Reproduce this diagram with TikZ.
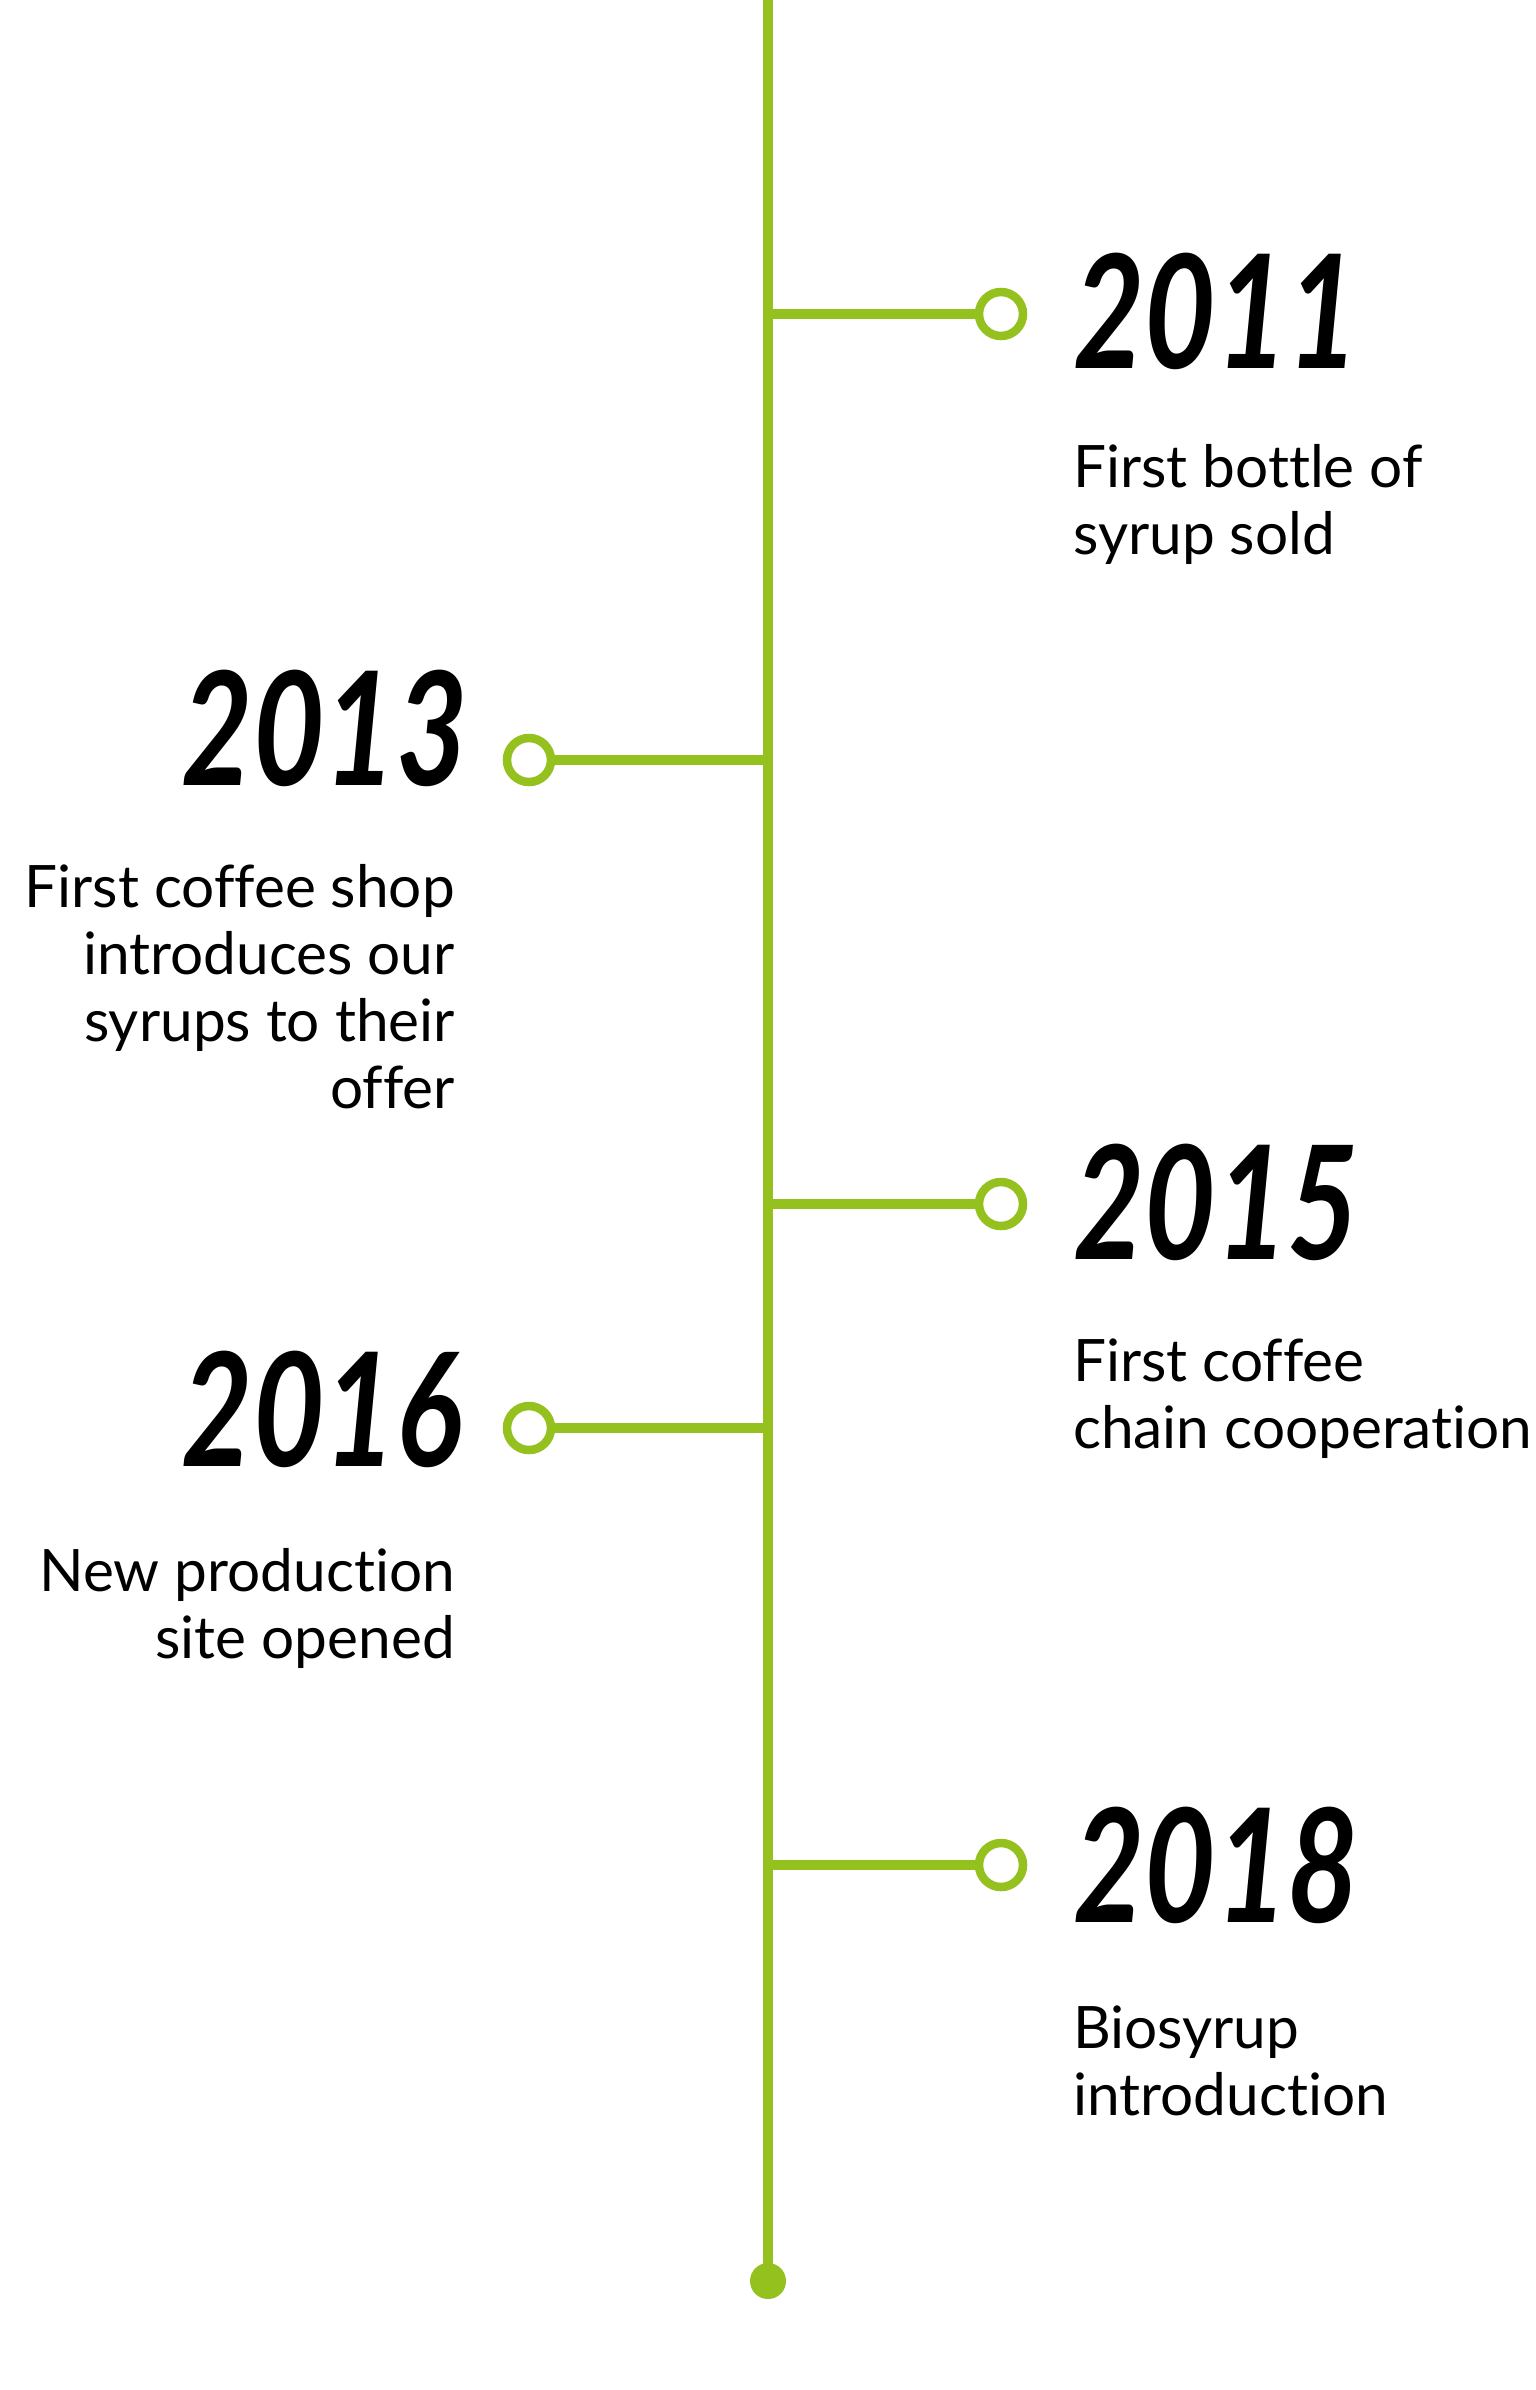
\documentclass[tikz,border=0pt]{standalone}
\usepackage{fontspec}
\setmainfont[Ligatures=CommonOff]{Lato}
\newfontfamily\yearfont[FakeStretch=0.78]{Lato}
\definecolor{lime}{HTML}{95C11F}

\tikzset{
    spine/.style={draw=lime, line width=9.5pt},
    branch/.style={draw=lime, line width=10pt},
    ring/.style={circle, draw=lime, fill=white, line width=8.5pt, minimum size=44pt, inner sep=0pt},
    enddot/.style={circle, fill=lime, minimum size=36pt, inner sep=0pt},
    year/.style={font=\yearfont\bfseries\itshape\fontsize{158}{158}\selectfont, inner sep=0pt},
    story/.style={font=\fontsize{58.5}{67}\selectfont, inner sep=0pt}
}

\begin{document}
\begin{tikzpicture}[x=1pt, y=-1pt]
    \useasboundingbox (0,0) rectangle (1536,2390);
    % main line
    \coordinate (top) at (768,0);
    \node[enddot] (end) at (768,2281) {};
    \draw[spine] (top) -- (end.center);
    % branches
    \coordinate (b2011) at (768,314);
    \coordinate (b2013) at (768,760);
    \coordinate (b2015) at (768,1204);
    \coordinate (b2016) at (768,1428);
    \coordinate (b2018) at (768,1865);
    \node[ring] (c2011) at (1001,314) {};
    \node[ring] (c2013) at (529,760) {};
    \node[ring] (c2015) at (1001,1204) {};
    \node[ring] (c2016) at (529,1428) {};
    \node[ring] (c2018) at (1001,1865) {};
    \draw[branch] (b2011) -- (c2011);
    \draw[branch] (b2013) -- (c2013);
    \draw[branch] (b2015) -- (c2015);
    \draw[branch] (b2016) -- (c2016);
    \draw[branch] (b2018) -- (c2018);
    % years
    \node[year, anchor=base west] (y2011) at (1073,368) {2011};
    \node[year, anchor=base east] (y2013) at (468,785) {2013};
    \node[year, anchor=base west] (y2015) at (1073,1259) {2015};
    \node[year, anchor=base east] (y2016) at (462,1466) {2016};
    \node[year, anchor=base west] (y2018) at (1073,1922) {2018};
    % texts (base = last line)
    \node[story, anchor=base west, align=left] (t2011) at (1073,554) {First bottle of\\syrup sold};
    \node[story, anchor=base east, align=right] (t2013) at (455,1108) {First coffee shop\\introduces our\\syrups to their\\offer};
    \node[story, anchor=base west, align=left] (t2015) at (1073,1448) {First coffee\\chain cooperation};
    \node[story, anchor=base east, align=right] (t2016) at (455,1658) {New production\\site opened};
    \node[story, anchor=base west, align=left] (t2018) at (1073,2115) {Biosyrup\\introduction};
\end{tikzpicture}
\end{document}
